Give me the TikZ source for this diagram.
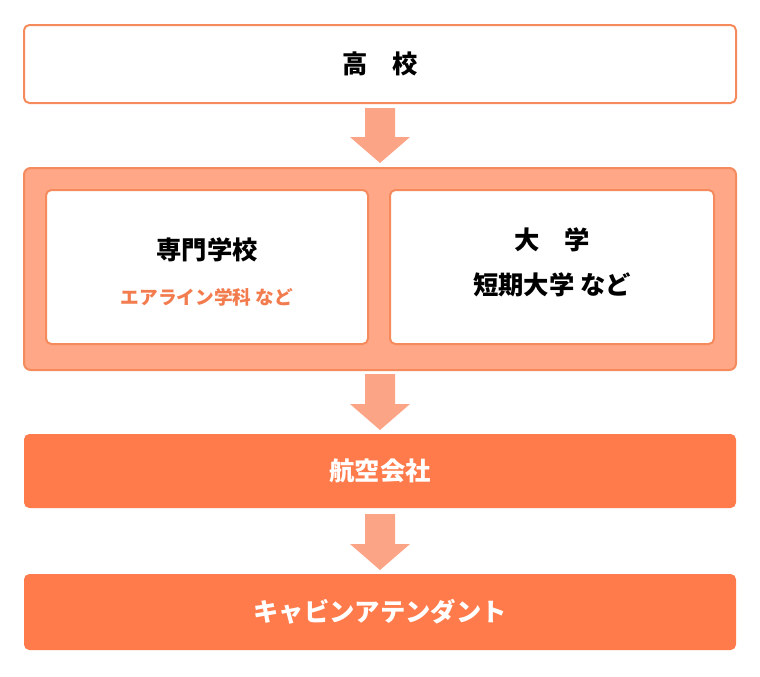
\documentclass[tikz,border=0pt]{standalone}
\usepackage{fontspec}
\setmainfont{Noto Sans CJK JP}
\definecolor{edgeor}{HTML}{F58A5C}
\definecolor{paleor}{HTML}{FFA786}
\definecolor{arrowor}{HTML}{FBA486}
\definecolor{deepor}{HTML}{FF7B4B}
\definecolor{textor}{HTML}{F27C4E}
\tikzset{
  whitebox/.style={draw=edgeor, line width=1.5pt, fill=white, rounded corners=4pt},
  groupbox/.style={draw=edgeor, line width=1.5pt, fill=paleor, rounded corners=5pt},
  solidbox/.style={fill=deepor, rounded corners=4pt},
  label/.style={font=\bfseries\fontsize{19}{23}\selectfont, align=center},
}
\begin{document}
\begin{tikzpicture}[x=0.75pt, y=-0.75pt]
  \useasboundingbox (0,0) rectangle (760,676);
  % arrow shape
  \def\downarr#1#2{\fill[arrowor] (365,#1) -- (395,#1) -- (395,#1+#2-26) -- (410,#1+#2-26)
     -- (380,#1+#2) -- (350,#1+#2-26) -- (365,#1+#2-26) -- cycle;}
  % top
  \draw[whitebox] (24,25) rectangle (736,103);
  \node[label] (koukou) at (380,64) {高　校};
  \downarr{108}{55}
  % schools
  \draw[groupbox] (24,168) rectangle (736,370);
  \draw[whitebox] (46,190) rectangle (368,344);
  \draw[whitebox] (390,190) rectangle (714,344);
  \node[label] (senmon) at (207,250) {専門学校};
  \node[font=\bfseries\fontsize{14}{17}\selectfont, text=textor] (airline) at (207,297) {エアライン学科 など};
  \node[label] (daigaku) at (552,240) {大　学};
  \node[label] (tanki) at (552,285) {短期大学 など};
  \downarr{374}{56}
  % airline company
  \fill[solidbox] (24,434) rectangle (736,508);
  \node[label, text=white] (koukuu) at (380,471) {航空会社};
  \downarr{514}{56}
  % cabin attendant
  \fill[solidbox] (24,574) rectangle (736,650);
  \node[label, text=white] (cabin) at (380,612) {キャビンアテンダント};
\end{tikzpicture}
\end{document}
